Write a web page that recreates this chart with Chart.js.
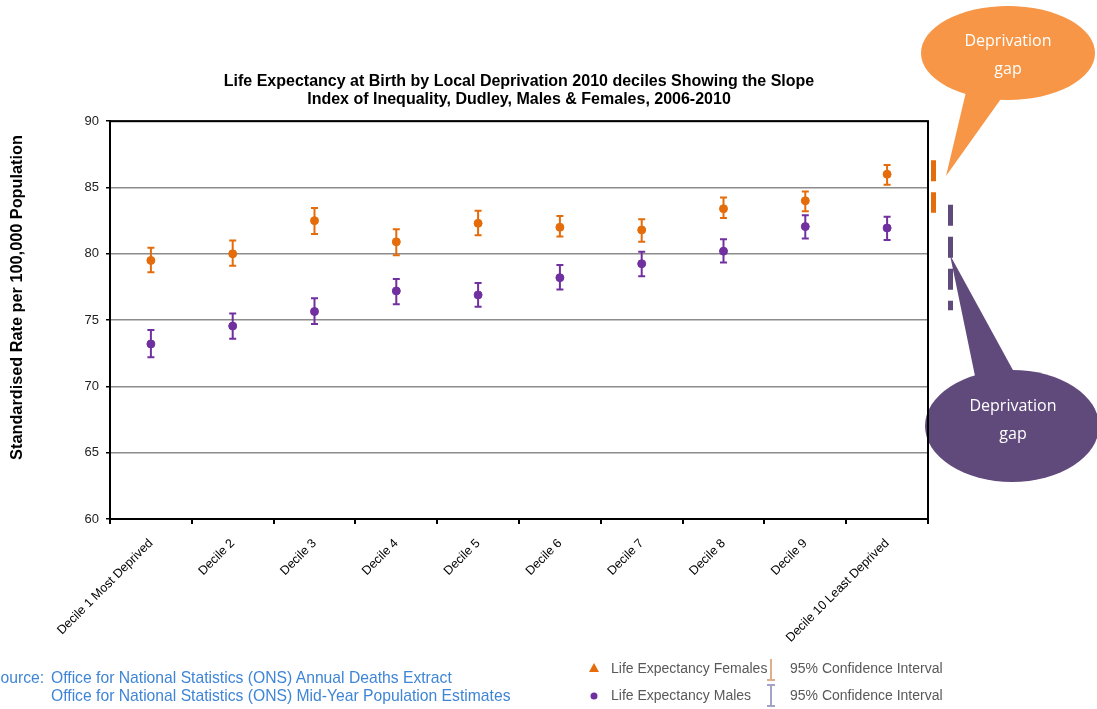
<!DOCTYPE html>
<html lang="en">
<head>
  <meta charset="UTF-8" />
  <title>Life Expectancy by Local Deprivation - Dudley</title>
  <script src="https://cdn.jsdelivr.net/npm/chart.js"></script>
  <style>
    body { margin:0; background:#fff; font-family:'Liberation Sans',Arial,sans-serif; }
    #wrap { position:relative; width:1097px; height:709px; overflow:hidden; }
    canvas { position:absolute; left:0; top:0; }
    .bubble { position:absolute; color:#fff; font-family:'Open Sans','Noto Sans',sans-serif; font-size:16px; text-align:center; line-height:28px; width:130px; }
    .src { position:absolute; color:#3f85d6; font-size:15.7px; white-space:nowrap; }
    .leg { position:absolute; color:#595959; font-size:14px; white-space:nowrap; }
    svg.ico { position:absolute; }
  </style>
</head>
<body>
<div id="wrap">
  <canvas id="chart" width="1097" height="709"></canvas>

  <div class="bubble" style="left:943px; top:26px;">Deprivation<br>gap</div>
  <div class="bubble" style="left:948px; top:391px;">Deprivation<br>gap</div>

  <div class="src" style="left:-10px; top:669px;">Source:</div>
  <div class="src" style="left:51px; top:669px;">Office for National Statistics (ONS) Annual Deaths Extract</div>
  <div class="src" style="left:51px; top:687px;">Office for National Statistics (ONS) Mid-Year Population Estimates</div>

  <svg class="ico" style="left:588px; top:662px;" width="12" height="12"><polygon points="6,1 11,10 1,10" fill="#e46c0a"/></svg>
  <div class="leg" style="left:611px; top:660px;">Life Expectancy Females</div>
  <svg class="ico" style="left:766px; top:658px;" width="10" height="24"><line x1="5" y1="1" x2="5" y2="22" stroke="#dcb08c" stroke-width="2"/><line x1="1" y1="22" x2="9" y2="22" stroke="#dcb08c" stroke-width="2"/></svg>
  <div class="leg" style="left:790px; top:660px;">95% Confidence Interval</div>

  <svg class="ico" style="left:589px; top:691px;" width="10" height="10"><circle cx="5" cy="5" r="3.5" fill="#7030a0"/></svg>
  <div class="leg" style="left:611px; top:687px;">Life Expectancy Males</div>
  <svg class="ico" style="left:766px; top:684px;" width="10" height="24"><line x1="5" y1="1" x2="5" y2="22" stroke="#a3a3c9" stroke-width="2"/><line x1="1" y1="1" x2="9" y2="1" stroke="#a3a3c9" stroke-width="2"/><line x1="1" y1="22" x2="9" y2="22" stroke="#a3a3c9" stroke-width="2"/></svg>
  <div class="leg" style="left:790px; top:687px;">95% Confidence Interval</div>
</div>

<script>
  const deciles = ["Decile 1 Most Deprived","Decile 2","Decile 3","Decile 4","Decile 5",
                   "Decile 6","Decile 7","Decile 8","Decile 9","Decile 10 Least Deprived"];

  const femaleLE   = [79.5, 80.0, 82.5, 80.9, 82.3, 82.0, 81.8, 83.4, 84.0, 86.0];
  const femaleLow  = [78.6, 79.1, 81.5, 79.9, 81.4, 81.3, 80.9, 82.7, 83.2, 85.2];
  const femaleHigh = [80.45, 81.0, 83.45, 81.85, 83.25, 82.85, 82.6, 84.25, 84.7, 86.7];

  const maleLE   = [73.2, 74.55, 75.65, 77.2, 76.9, 78.2, 79.25, 80.2, 82.05, 81.95];
  const maleLow  = [72.2, 73.6, 74.7, 76.2, 76.0, 77.3, 78.3, 79.35, 81.15, 81.05];
  const maleHigh = [74.25, 75.5, 76.65, 78.1, 77.8, 79.15, 80.15, 81.1, 82.9, 82.8];

  // slope index of inequality gap (shown beside the plot)
  const femaleGap = [83.1, 87.05];
  const maleGap   = [75.75, 83.7];

  const yMin = 60, yMax = 90, yStep = 5;

  const ORANGE = "#e46c0a";
  const PURPLE = "#7030a0";
  const FONT = "'Liberation Sans', Arial, sans-serif";

  // callout bubbles drawn underneath the chart
  const callouts = {
    id: "callouts",
    beforeDraw(chart) {
      const ctx = chart.ctx;
      ctx.save();
      ctx.fillStyle = "#f79646";
      ctx.beginPath();
      ctx.ellipse(1008, 53, 87, 47, 0, 0, Math.PI * 2);
      ctx.fill();
      ctx.beginPath();
      ctx.moveTo(966, 92); ctx.lineTo(1003, 96); ctx.lineTo(946, 176);
      ctx.closePath(); ctx.fill();

      ctx.fillStyle = "#604a7b";
      ctx.beginPath();
      ctx.ellipse(1012, 426, 87, 56, 0, 0, Math.PI * 2);
      ctx.fill();
      ctx.beginPath();
      ctx.moveTo(975, 376); ctx.lineTo(1014, 372); ctx.lineTo(950, 255);
      ctx.closePath(); ctx.fill();
      ctx.restore();
    }
  };

  // 95% confidence interval bars, plot box and gap markers
  const errorBars = {
    id: "errorBars",
    beforeDatasetsDraw(chart) {
      const ctx = chart.ctx;
      const y = chart.scales.y;
      const sets = [[femaleLow, femaleHigh, ORANGE], [maleLow, maleHigh, PURPLE]];
      ctx.save();
      ctx.lineWidth = 2;
      sets.forEach((s, i) => {
        const meta = chart.getDatasetMeta(i);
        ctx.strokeStyle = s[2];
        meta.data.forEach((pt, j) => {
          const top = y.getPixelForValue(s[1][j]);
          const bot = y.getPixelForValue(s[0][j]);
          ctx.beginPath();
          ctx.moveTo(pt.x, top); ctx.lineTo(pt.x, bot);
          ctx.moveTo(pt.x - 3.5, top); ctx.lineTo(pt.x + 3.5, top);
          ctx.moveTo(pt.x - 3.5, bot); ctx.lineTo(pt.x + 3.5, bot);
          ctx.stroke();
        });
      });
      ctx.restore();
    },
    afterDraw(chart) {
      const ctx = chart.ctx;
      const a = chart.chartArea;
      const y = chart.scales.y;
      ctx.save();
      ctx.strokeStyle = "#000";
      ctx.lineWidth = 2;
      ctx.strokeRect(a.left, a.top, a.right - a.left, a.bottom - a.top);
      ctx.lineWidth = 5;
      ctx.setLineDash([21, 11]);
      ctx.strokeStyle = ORANGE;
      ctx.beginPath();
      ctx.moveTo(a.right + 5.5, y.getPixelForValue(femaleGap[1]));
      ctx.lineTo(a.right + 5.5, y.getPixelForValue(femaleGap[0]));
      ctx.stroke();
      ctx.strokeStyle = "#604a7b";
      ctx.beginPath();
      ctx.moveTo(a.right + 22.5, y.getPixelForValue(maleGap[1]));
      ctx.lineTo(a.right + 22.5, y.getPixelForValue(maleGap[0]));
      ctx.stroke();
      ctx.restore();
    }
  };

  new Chart(document.getElementById("chart"), {
    type: "line",
    data: {
      labels: deciles,
      datasets: [
        { label: "Life Expectancy Females", data: femaleLE, showLine: false,
          pointRadius: 4, pointHoverRadius: 4, pointBackgroundColor: ORANGE, pointBorderColor: ORANGE, borderColor: ORANGE },
        { label: "Life Expectancy Males", data: maleLE, showLine: false,
          pointRadius: 4, pointHoverRadius: 4, pointBackgroundColor: PURPLE, pointBorderColor: PURPLE, borderColor: PURPLE }
      ]
    },
    options: {
      responsive: false,
      animation: false,
      layout: { padding: { left: 0, right: 169, top: 72, bottom: 0 } },
      plugins: {
        legend: { display: false },
        tooltip: { enabled: false },
        title: {
          display: true,
          fullSize: false,
          text: ["Life Expectancy at Birth by Local Deprivation 2010 deciles Showing the Slope",
                 "Index of Inequality, Dudley, Males & Females, 2006-2010"],
          color: "#000",
          font: { family: FONT, size: 16, weight: "bold", lineHeight: 1.15 },
          padding: { top: 0, bottom: 12.4 }
        }
      },
      scales: {
        x: {
          offset: true,
          afterFit(s) { s.height = 190; },
          grid: { offset: true, drawOnChartArea: false, drawTicks: true, tickLength: 5, tickColor: "#000", lineWidth: 2 },
          border: { color: "#000", width: 2 },
          ticks: { autoSkip: false, minRotation: 45, maxRotation: 45, color: "#000", padding: 12,
                   font: { family: FONT, size: 12.5 } }
        },
        y: {
          min: yMin, max: yMax,
          afterFit(s) { s.width = 110; },
          grid: { color: "#8c8c8c", lineWidth: 1.5, tickColor: "#000", tickLength: 4 },
          border: { color: "#000", width: 2 },
          ticks: { stepSize: yStep, color: "#222", padding: 7, font: { family: FONT, size: 13 } },
          title: {
            display: true,
            text: "          Standardised Rate per 100,000 Population",
            color: "#000",
            font: { family: FONT, size: 16.3, weight: "bold" },
            padding: { top: 7.5, bottom: 0 }
          }
        }
      }
    },
    plugins: [callouts, errorBars]
  });
</script>
</body>
</html>
